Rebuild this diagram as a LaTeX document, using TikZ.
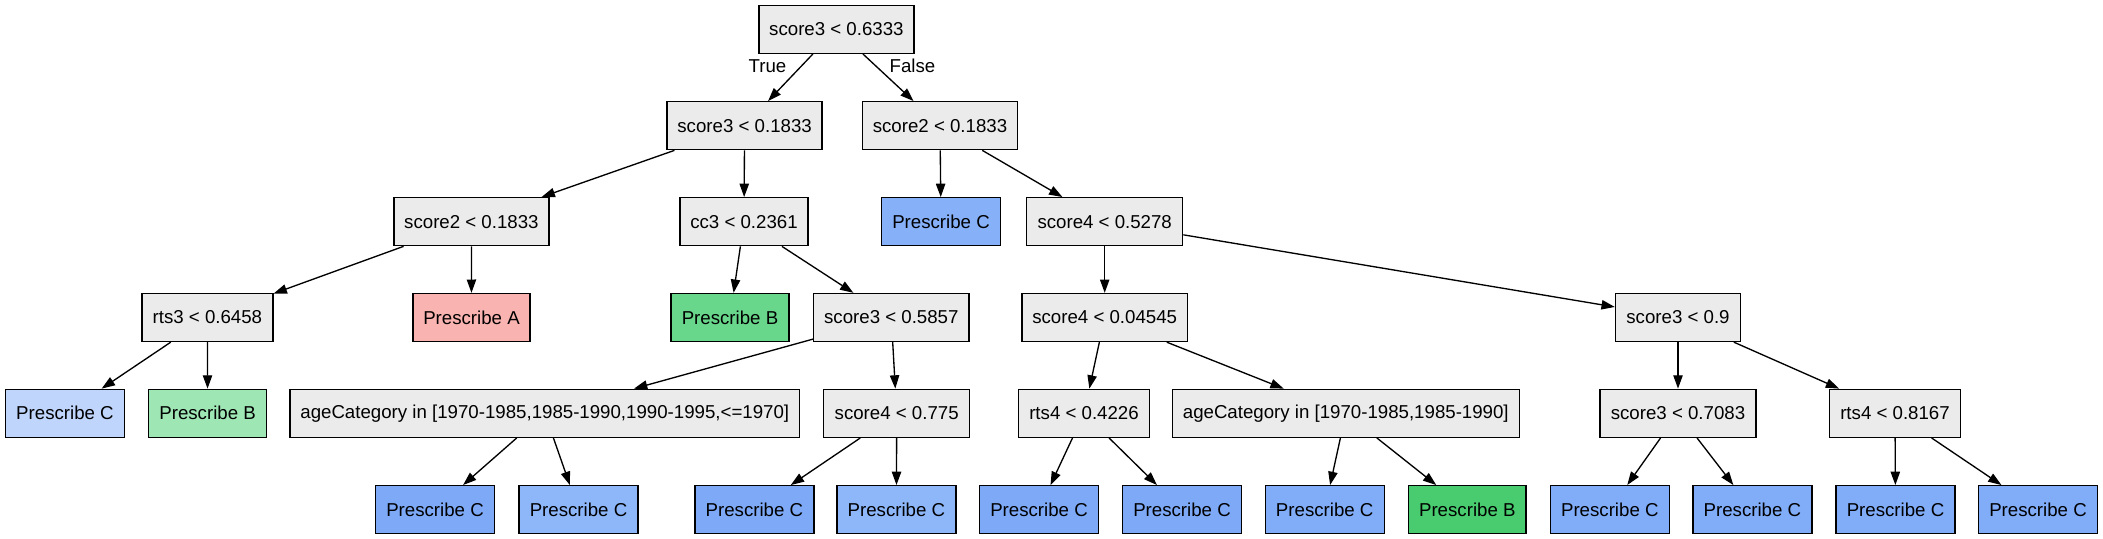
\documentclass[tikz,border=0pt]{standalone}
\usepackage{fontspec}
\setmainfont{Liberation Sans}
\usetikzlibrary{arrows.meta}
\definecolor{gfill}{HTML}{EBEBEB}
\definecolor{cLight}{HTML}{BFD5FC}
\definecolor{cMid}{HTML}{86B1F9}
\definecolor{cDark}{HTML}{7DA9F7}
\definecolor{cPale}{HTML}{8EB7FA}
\definecolor{cStd}{HTML}{80ACF8}
\definecolor{bLight}{HTML}{9FE6B5}
\definecolor{bMid}{HTML}{68D68B}
\definecolor{bDark}{HTML}{48CC6F}
\definecolor{aPink}{HTML}{F9B3B0}
\tikzset{
  box/.style={draw=black, line width=1pt, rectangle, minimum height=36pt, inner sep=0pt, font=\fontsize{14pt}{16pt}\selectfont},
  gn/.style={box, fill=gfill},
  edge/.style={draw=black, line width=1pt, -{Triangle[length=10pt,width=7pt]}},
  elab/.style={font=\fontsize{14pt}{16pt}\selectfont, inner sep=0pt}
}
\begin{document}
\begin{tikzpicture}[x=0.75pt,y=-0.75pt]
\useasboundingbox (0,0) rectangle (2103,539);
% row 1
\node[gn, minimum width=116.25pt] (r) at (836.4,29.3) {score3 < 0.6333};
% row 2
\node[gn, minimum width=116.25pt] (a) at (744.6,125.7) {score3 < 0.1833};
\node[gn, minimum width=116.6pt] (b) at (940,125.7) {score2 < 0.1833};
% row 3
\node[gn, minimum width=116.25pt] (aa) at (471.4,221.7) {score2 < 0.1833};
\node[gn, minimum width=96pt] (ab) at (744,221.7) {cc3 < 0.2361};
\node[box, fill=cMid, minimum width=89.6pt] (ba) at (941,221.7) {Prescribe C};
\node[gn, minimum width=117pt] (bb) at (1104.7,221.7) {score4 < 0.5278};
% row 4
\node[gn, minimum width=98.25pt] (aaa) at (207.4,317.5) {rts3 < 0.6458};
\node[box, fill=aPink, minimum width=87.75pt] (aab) at (471.5,317.5) {Prescribe A};
\node[box, fill=bMid, minimum width=88.5pt] (aba) at (730,317.5) {Prescribe B};
\node[gn, minimum width=116.5pt] (abb) at (891.3,317.5) {score3 < 0.5857};
\node[gn, minimum width=124.2pt] (bba) at (1104.7,317.5) {score4 < 0.04545};
\node[gn, minimum width=93.75pt] (bbb) at (1678,317.5) {score3 < 0.9};
% row 5
\node[box, fill=cLight, minimum width=89.25pt] (aaaa) at (65,413.3) {Prescribe C};
\node[box, fill=bLight, minimum width=88.5pt] (aaab) at (207.6,413.3) {Prescribe B};
\node[gn, minimum width=382.2pt] (abba) at (544.8,413.3) {ageCategory in [1970-1985,1985-1990,1990-1995,<=1970]};
\node[gn, minimum width=109.5pt] (abbb) at (896.7,413.3) {score4 < 0.775};
\node[gn, minimum width=98.25pt] (bbaa) at (1084,413.3) {rts4 < 0.4226};
\node[gn, minimum width=260.25pt] (bbab) at (1345.8,413.3) {ageCategory in [1970-1985,1985-1990]};
\node[gn, minimum width=116.85pt] (bbba) at (1678,413.3) {score3 < 0.7083};
\node[gn, minimum width=98.25pt] (bbbb) at (1895,413.3) {rts4 < 0.8167};
% row 6
\node[box, fill=cDark, minimum width=89.25pt] (l1) at (435,509.7) {Prescribe C};
\node[box, fill=cPale, minimum width=89.25pt] (l2) at (578.5,509.7) {Prescribe C};
\node[box, fill=cDark, minimum width=89.25pt] (l3) at (754.4,509.7) {Prescribe C};
\node[box, fill=cPale, minimum width=89.25pt] (l4) at (896.4,509.7) {Prescribe C};
\node[box, fill=cDark, minimum width=89.25pt] (l5) at (1039,509.7) {Prescribe C};
\node[box, fill=cDark, minimum width=89.25pt] (l6) at (1182,509.7) {Prescribe C};
\node[box, fill=cStd, minimum width=89.25pt] (l7) at (1324.7,509.7) {Prescribe C};
\node[box, fill=bDark, minimum width=88.2pt] (l8) at (1467.3,509.7) {Prescribe B};
\node[box, fill=cStd, minimum width=89.25pt] (l9) at (1609.8,509.7) {Prescribe C};
\node[box, fill=cStd, minimum width=89.25pt] (l10) at (1752.4,509.7) {Prescribe C};
\node[box, fill=cStd, minimum width=89.25pt] (l11) at (1895.5,509.7) {Prescribe C};
\node[box, fill=cStd, minimum width=89.25pt] (l12) at (2038,509.7) {Prescribe C};
% edges
\draw[edge] (r) -- (a);
\draw[edge] (r) -- (b);
\draw[edge] (a) -- (aa);
\draw[edge] (a) -- (ab);
\draw[edge] (b) -- (ba);
\draw[edge] (b) -- (bb);
\draw[edge] (aa) -- (aaa);
\draw[edge] (aa) -- (aab);
\draw[edge] (ab) -- (aba);
\draw[edge] (ab) -- (abb);
\draw[edge] (bb) -- (bba);
\draw[edge] (bb) -- (bbb);
\draw[edge] (aaa) -- (aaaa);
\draw[edge] (aaa) -- (aaab);
\draw[edge] (abb) -- (abba);
\draw[edge] (abb) -- (abbb);
\draw[edge] (bba) -- (bbaa);
\draw[edge] (bba) -- (bbab);
\draw[edge] (bbb) -- (bbba);
\draw[edge] (bbb) -- (bbbb);
\draw[edge] (abba) -- (l1);
\draw[edge] (abba) -- (l2);
\draw[edge] (abbb) -- (l3);
\draw[edge] (abbb) -- (l4);
\draw[edge] (bbaa) -- (l5);
\draw[edge] (bbaa) -- (l6);
\draw[edge] (bbab) -- (l7);
\draw[edge] (bbab) -- (l8);
\draw[edge] (bbba) -- (l9);
\draw[edge] (bbba) -- (l10);
\draw[edge] (bbbb) -- (l11);
\draw[edge] (bbbb) -- (l12);
% edge labels
\node[elab] (tl) at (767.5,66) {True};
\node[elab] (fl) at (912.5,66) {False};
\end{tikzpicture}
\end{document}
